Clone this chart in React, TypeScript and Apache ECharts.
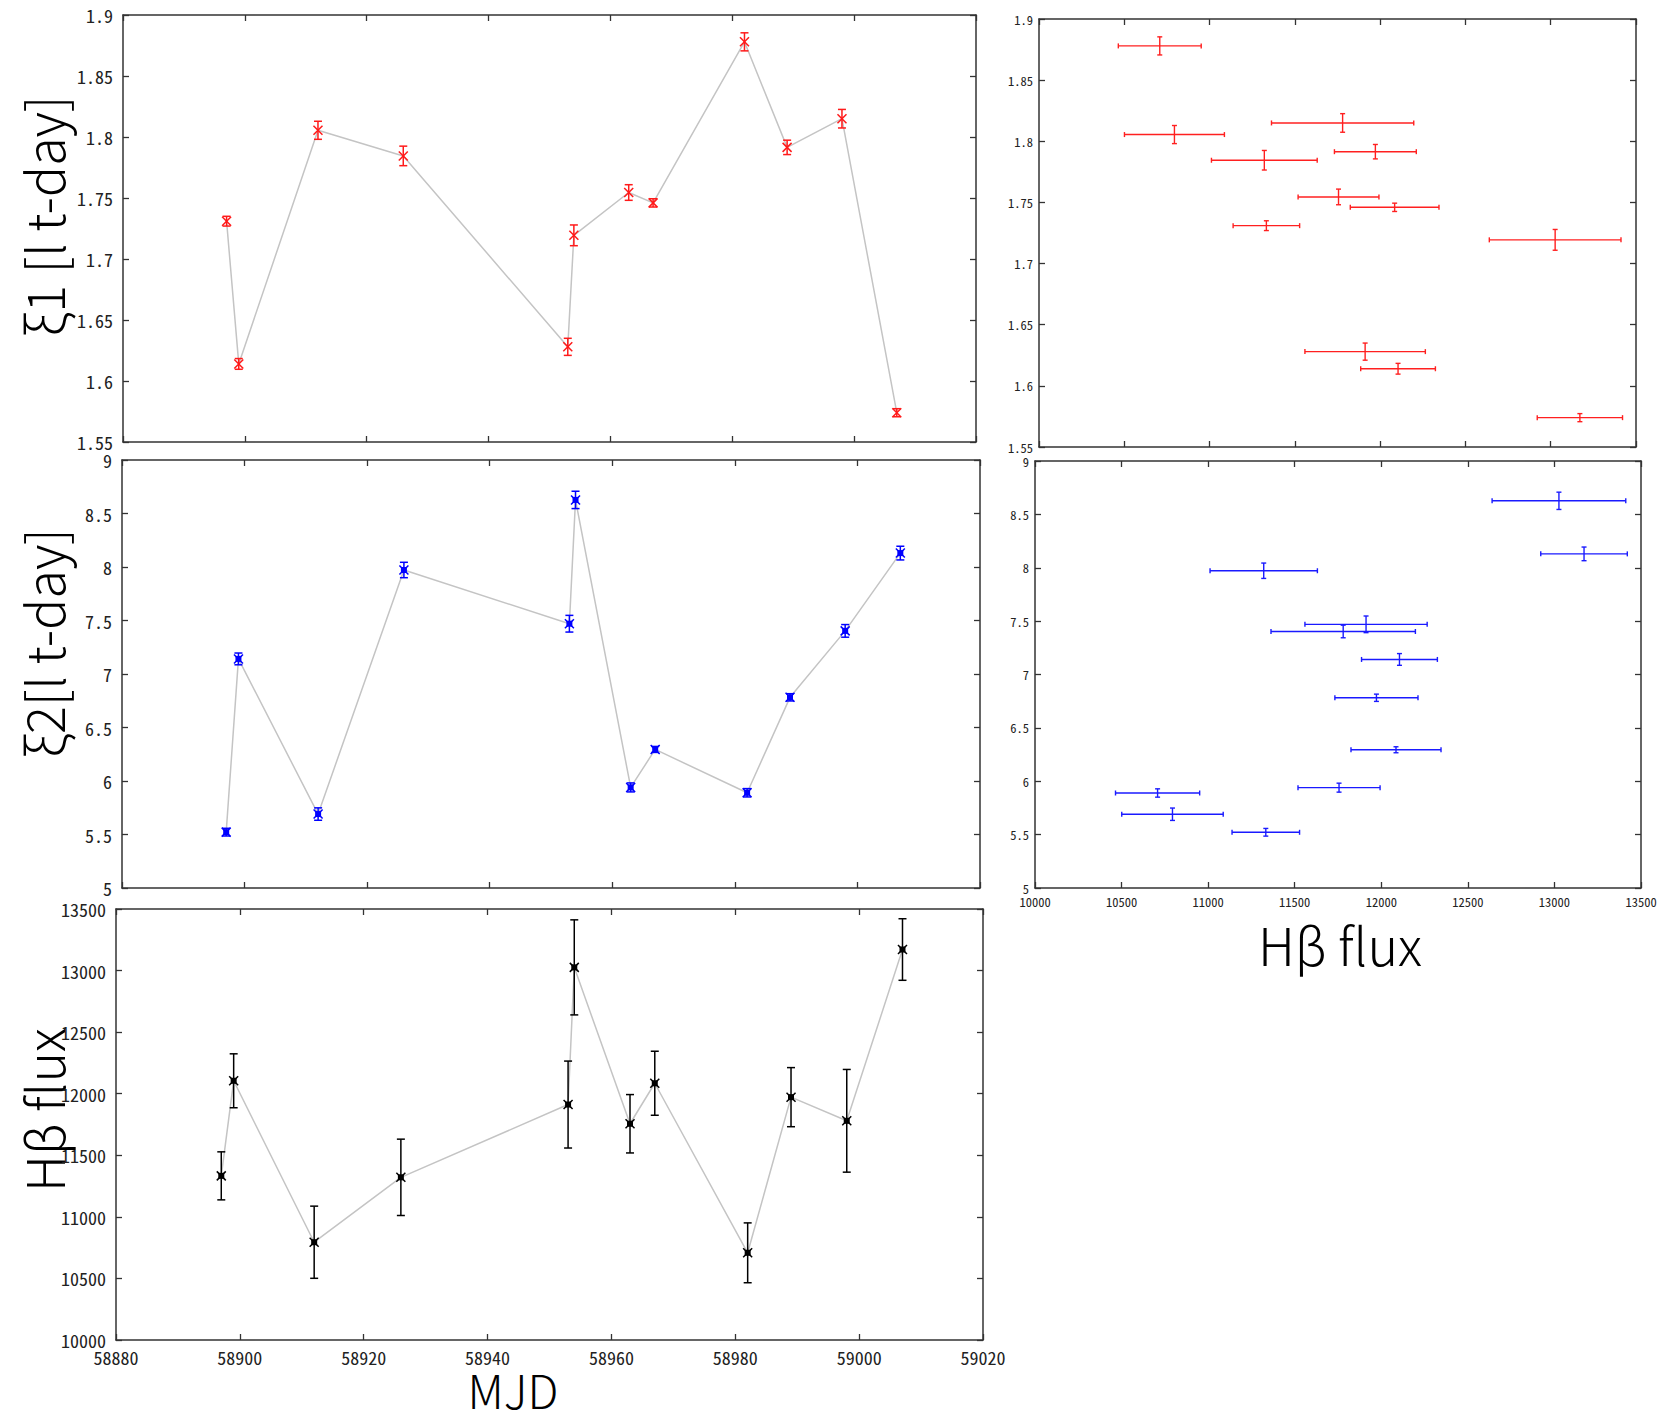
import React, { useEffect, useRef } from "react";
import * as echarts from "echarts";

// ---- data ----
const MJD = [58897, 58899, 58912, 58926, 58953, 58954, 58963, 58967, 58982, 58989, 58998, 59007];
const HB_FLUX = [11333, 12105, 10794, 11321, 11912, 13026, 11756, 12085, 10708, 11972, 11780, 13171];
const HB_ERR = [195, 219, 293, 310, 353, 386, 237, 260, 243, 240, 417, 250];
const XI1 = [1.731, 1.614, 1.8055, 1.7845, 1.628, 1.7194, 1.7545, 1.746, 1.878, 1.7915, 1.815, 1.574];
const XI1_ERR = [0.004, 0.0044, 0.0074, 0.008, 0.007, 0.0085, 0.0064, 0.0034, 0.0074, 0.0059, 0.0076, 0.0033];
const XI2 = [5.522, 7.141, 5.691, 7.972, 7.47, 8.627, 5.94, 6.295, 5.89, 6.782, 7.403, 8.13];
const XI2_ERR = [0.036, 0.055, 0.058, 0.072, 0.078, 0.081, 0.042, 0.028, 0.039, 0.034, 0.059, 0.064];

const MJD_RANGE = { min: 58880, max: 59020, interval: 20 };
const FLUX_RANGE = { min: 10000, max: 13500, interval: 500 };
const XI1_RANGE = { min: 1.55, max: 1.9, interval: 0.05 };
const XI2_RANGE = { min: 5, max: 9, interval: 0.5 };

const TITLE_XI1 = "ξ1 [l t-day]";
const TITLE_XI2 = "ξ2[l t-day]";
const TITLE_FLUX = "Hβ flux";
const TITLE_MJD = "MJD";

const TICK_FONT = "'Noto Sans Mono CJK JP', 'Liberation Sans Narrow', 'Liberation Sans', sans-serif";
const TITLE_FONT = "'Noto Sans CJK JP', 'Liberation Sans', sans-serif";
const AXIS_COLOR = "#333";

function makeAxes(gridIndex: number, range: any, showLabels: boolean, fontSize: number, margin: number, dim: "x" | "y") {
  const common = {
    gridIndex,
    type: "value",
    min: range.min,
    max: range.max,
    interval: range.interval,
    splitLine: { show: false },
    axisLine: { show: true, onZero: false, lineStyle: { color: AXIS_COLOR, width: 1.5 } },
    axisTick: { show: true, inside: true, length: 6, lineStyle: { color: AXIS_COLOR, width: 1.3 } },
  };
  const main = {
    ...common,
    position: dim === "x" ? "bottom" : "left",
    axisLabel: {
      show: showLabels,
      fontSize,
      lineHeight: Math.round(fontSize * 0.8),
      fontFamily: TICK_FONT,
      color: "#222",
      margin,
      formatter: (v: number) => String(Math.round(v * 1000) / 1000),
    },
  };
  const mirror = {
    ...common,
    position: dim === "x" ? "top" : "right",
    axisLabel: { show: false },
  };
  return [main, mirror];
}

function leftRenderer(color: string, filled: boolean) {
  return (params: any, api: any) => {
    const x = api.value(0);
    const y = api.value(1);
    const e = api.value(2);
    const c = api.coord([x, y]);
    const t = api.coord([x, y + e]);
    const b = api.coord([x, y - e]);
    const cap = 4;
    const m = 4.5;
    const st = { stroke: color, lineWidth: 1.5 };
    const children: any[] = [
      { type: "line", shape: { x1: t[0], y1: t[1], x2: b[0], y2: b[1] }, style: st },
      { type: "line", shape: { x1: t[0] - cap, y1: t[1], x2: t[0] + cap, y2: t[1] }, style: st },
      { type: "line", shape: { x1: b[0] - cap, y1: b[1], x2: b[0] + cap, y2: b[1] }, style: st },
      { type: "line", shape: { x1: c[0] - m, y1: c[1] - m, x2: c[0] + m, y2: c[1] + m }, style: st },
      { type: "line", shape: { x1: c[0] - m, y1: c[1] + m, x2: c[0] + m, y2: c[1] - m }, style: st },
    ];
    if (filled) {
      children.push({ type: "rect", shape: { x: c[0] - 3, y: c[1] - 3, width: 6, height: 6 }, style: { fill: color } });
    }
    return { type: "group", children };
  };
}

function rightRenderer(color: string) {
  return (params: any, api: any) => {
    const x = api.value(0);
    const y = api.value(1);
    const xe = api.value(2);
    const ye = api.value(3);
    const l = api.coord([x - xe, y]);
    const r = api.coord([x + xe, y]);
    const t = api.coord([x, y + ye]);
    const b = api.coord([x, y - ye]);
    const cap = 2.5;
    const st = { stroke: color, lineWidth: 1.4 };
    return {
      type: "group",
      children: [
        { type: "line", shape: { x1: l[0], y1: l[1], x2: r[0], y2: r[1] }, style: st },
        { type: "line", shape: { x1: l[0], y1: l[1] - cap, x2: l[0], y2: l[1] + cap }, style: st },
        { type: "line", shape: { x1: r[0], y1: r[1] - cap, x2: r[0], y2: r[1] + cap }, style: st },
        { type: "line", shape: { x1: t[0], y1: t[1], x2: b[0], y2: b[1] }, style: st },
        { type: "line", shape: { x1: t[0] - cap, y1: t[1], x2: t[0] + cap, y2: t[1] }, style: st },
        { type: "line", shape: { x1: b[0] - cap, y1: b[1], x2: b[0] + cap, y2: b[1] }, style: st },
      ],
    };
  };
}

export default function App() {
  const ref = useRef<HTMLDivElement>(null);

  useEffect(() => {
    if (!ref.current) return;
    const chart = echarts.init(ref.current, undefined, { renderer: "svg" });

    const grids = [
      { left: 123, top: 15, width: 853, height: 427 },
      { left: 122, top: 460, width: 858, height: 428 },
      { left: 116, top: 909, width: 867, height: 431 },
      { left: 1039, top: 19, width: 597, height: 428 },
      { left: 1035, top: 461, width: 606, height: 427 },
    ];

    const xAxes = [
      ...makeAxes(0, MJD_RANGE, false, 18, 10, "x"),
      ...makeAxes(1, MJD_RANGE, false, 18, 10, "x"),
      ...makeAxes(2, MJD_RANGE, true, 18, 10, "x"),
      ...makeAxes(3, FLUX_RANGE, false, 12.5, 6, "x"),
      ...makeAxes(4, FLUX_RANGE, true, 12.5, 8, "x"),
    ];
    const yAxes = [
      ...makeAxes(0, XI1_RANGE, true, 18, 10, "y"),
      ...makeAxes(1, XI2_RANGE, true, 18, 10, "y"),
      ...makeAxes(2, FLUX_RANGE, true, 18, 10, "y"),
      ...makeAxes(3, XI1_RANGE, true, 12.5, 6, "y"),
      ...makeAxes(4, XI2_RANGE, true, 12.5, 6, "y"),
    ];

    const lineStyle = { color: "#c4c4c4", width: 1.5 };
    const leftPanels = [
      { vals: XI1, errs: XI1_ERR, color: "#ff1a1a", filled: false },
      { vals: XI2, errs: XI2_ERR, color: "#0000ff", filled: true },
      { vals: HB_FLUX, errs: HB_ERR, color: "#000000", filled: true },
    ];

    const series: any[] = [];
    leftPanels.forEach((p, i) => {
      series.push({
        type: "line",
        xAxisIndex: i * 2,
        yAxisIndex: i * 2,
        data: MJD.map((m, k) => [m, p.vals[k]]),
        symbol: "none",
        lineStyle,
        z: 2,
      });
      series.push({
        type: "custom",
        xAxisIndex: i * 2,
        yAxisIndex: i * 2,
        data: MJD.map((m, k) => [m, p.vals[k], p.errs[k]]),
        renderItem: leftRenderer(p.color, p.filled),
        z: 3,
      });
    });
    series.push({
      type: "custom",
      xAxisIndex: 6,
      yAxisIndex: 6,
      data: HB_FLUX.map((f, k) => [f, XI1[k], HB_ERR[k], XI1_ERR[k]]),
      renderItem: rightRenderer("#ff2020"),
    });
    series.push({
      type: "custom",
      xAxisIndex: 8,
      yAxisIndex: 8,
      data: HB_FLUX.map((f, k) => [f, XI2[k], HB_ERR[k], XI2_ERR[k]]),
      renderItem: rightRenderer("#1a1aff"),
    });

    const titleStyle = (text: string, size: number, lh?: number) => ({
      text,
      fontSize: size,
      lineHeight: lh ?? Math.round(size * 0.8),
      fontFamily: TITLE_FONT,
      fontWeight: 300,
      fill: "#000",
      align: "center",
      verticalAlign: "middle",
    });

    chart.setOption({
      animation: false,
      backgroundColor: "#fff",
      grid: grids,
      xAxis: xAxes,
      yAxis: yAxes,
      series,
      graphic: [
        { type: "text", x: 42, y: 216, rotation: Math.PI / 2, style: titleStyle(TITLE_XI1, 52) },
        { type: "text", x: 42, y: 643, rotation: Math.PI / 2, style: titleStyle(TITLE_XI2, 52) },
        { type: "text", x: 42, y: 1110, rotation: Math.PI / 2, style: titleStyle(TITLE_FLUX, 52) },
        { type: "text", x: 513, y: 1389, style: titleStyle(TITLE_MJD, 46, 34) },
        { type: "text", x: 1340, y: 943, style: titleStyle(TITLE_FLUX, 52) },
      ],
    });

    return () => {
      chart.dispose();
    };
  }, []);

  return (
    <div
      ref={ref}
      style={{ position: "absolute", left: 0, top: 0, width: 1661, height: 1416, background: "#fff" }}
    />
  );
}
